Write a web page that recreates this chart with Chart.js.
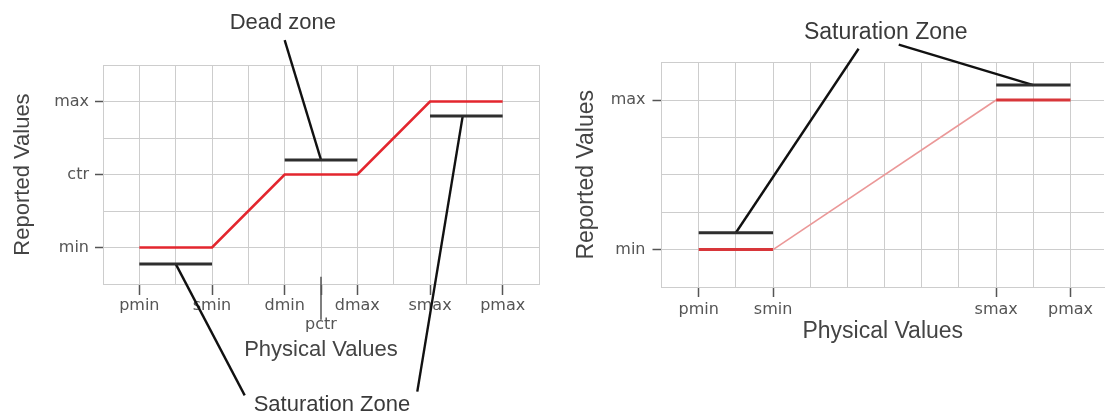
<!DOCTYPE html>
<html><head><meta charset="utf-8">
<script src="https://cdn.jsdelivr.net/npm/chart.js@4"></script>
<style>
html,body{margin:0;padding:0;background:#fff;overflow:hidden;}
#wrap{position:relative;width:1105px;height:418px;}
canvas{position:absolute;top:0;}
#c1{left:0;} #c2{left:552px;}
</style></head><body>
<div id="wrap"><canvas id="c1" width="552" height="418"></canvas><canvas id="c2" width="553" height="418"></canvas></div>
<script>
// ---------- Left chart (dead zone + saturation) ----------
const leftXTickValues = [1, 3, 5, 6, 7, 9, 11];
const leftXTickLabels = ['pmin', 'smin', 'dmin', 'pctr', 'dmax', 'smax', 'pmax'];
const leftXTickRow    = [0, 0, 0, 1, 0, 0, 0];
const leftYTickValues = [1, 3, 5];
const leftYTickLabels = ['min', 'ctr', 'max'];
const leftCurveX = [1, 3, 5, 7, 9, 11];
const leftCurveY = [1, 1, 3, 3, 5, 5];
const leftSatLowX = [1, 3];     const leftSatLowY = [0.55, 0.55];
const leftDeadX = [5, 7];       const leftDeadY = [3.4, 3.4];
const leftSatHighX = [9, 11];   const leftSatHighY = [4.6, 4.6];
const leftDeadLeaderX = [6, 5.0];    const leftDeadLeaderY = [3.4, 6.68];
const leftSatLeaderAX = [2, 3.9];    const leftSatLeaderAY = [0.55, -3.05];
const leftSatLeaderBX = [9.9, 8.65]; const leftSatLeaderBY = [4.6, -2.95];
const leftPctrTickX = [6, 6];        const leftPctrTickY = [0.2, -0.98];
const leftNoteTexts = ['Dead zone', 'Saturation Zone'];
const leftNoteX = [4.95, 6.3];
const leftNoteY = [7.15, -3.3];

// ---------- Right chart (saturation only) ----------
const rightXTickValues = [1, 3, 9, 11];
const rightXTickLabels = ['pmin', 'smin', 'smax', 'pmax'];
const rightYTickValues = [1, 5];
const rightYTickLabels = ['min', 'max'];
const rightCurveX = [1, 3, 9, 11];
const rightCurveY = [1, 1, 5, 5];
const rightSatLowX = [1, 3];    const rightSatLowY = [1.45, 1.45];
const rightSatHighX = [9, 11];  const rightSatHighY = [5.4, 5.4];
const rightLeaderAX = [2, 5.3];    const rightLeaderAY = [1.45, 6.37];
const rightLeaderBX = [10, 6.38];  const rightLeaderBY = [5.4, 6.48];
const rightNoteTexts = ['Saturation Zone'];
const rightNoteX = [6.03];
const rightNoteY = [6.79];

const GRID = '#cdcdcd';
const TICKC = '#555';

function pts(xs, ys) { return xs.map((x, i) => ({x: x, y: ys[i]})); }
function line(xs, ys, color, width, extra) {
  return Object.assign({data: pts(xs, ys), borderColor: color, borderWidth: width,
    showLine: true, pointRadius: 0, pointHoverRadius: 0, fill: false, tension: 0,
    borderCapStyle: 'butt'}, extra || {});
}
function notesPlugin(texts, xs, ys, font, color) {
  return {
    id: 'notes',
    afterDatasetsDraw(chart) {
      const ctx = chart.ctx, sx = chart.scales.x, sy = chart.scales.y;
      ctx.save();
      ctx.font = font; ctx.fillStyle = color;
      ctx.textAlign = 'center'; ctx.textBaseline = 'middle';
      texts.forEach((t, i) => ctx.fillText(t, sx.getPixelForValue(xs[i]), sy.getPixelForValue(ys[i])));
      ctx.restore();
    }
  };
}
function makeScales(cfg) {
  return {
    x: {
      type: 'linear', min: 0, max: cfg.xMax,
      afterFit: s => { s.height = cfg.xHeight; },
      ticks: {
        stepSize: 1, autoSkip: false, maxRotation: 0, minRotation: 0, includeBounds: false,
        padding: cfg.xTickPad, color: TICKC, font: {family: 'DejaVu Sans', size: 16},
        callback: v => {
          const i = cfg.xVals.indexOf(v);
          if (i < 0) return '';
          return (cfg.xRows && cfg.xRows[i]) ? ['', cfg.xLabels[i]] : cfg.xLabels[i];
        }
      },
      grid: {color: GRID, lineWidth: 1, tickLength: cfg.xTickLen, tickWidth: 1.5,
        tickColor: c => (c.tick && cfg.xVals.indexOf(c.tick.value) >= 0) ? TICKC : 'rgba(0,0,0,0)'},
      border: {color: GRID, width: 1},
      title: {display: true, text: 'Physical Values', color: '#444',
        font: {family: 'Liberation Sans', size: cfg.titleSize}, padding: 0}
    },
    y: {
      type: 'linear', min: 0, max: 6,
      afterFit: s => { s.width = cfg.yWidth; },
      ticks: {
        stepSize: 1, autoSkip: false, padding: cfg.yTickPad, color: TICKC,
        font: {family: 'DejaVu Sans', size: 16},
        callback: v => { const i = cfg.yVals.indexOf(v); return i < 0 ? '' : cfg.yLabels[i]; }
      },
      grid: {color: GRID, lineWidth: 1, tickLength: cfg.yTickLen, tickWidth: 1.5,
        tickColor: c => (c.tick && cfg.yVals.indexOf(c.tick.value) >= 0) ? TICKC : 'rgba(0,0,0,0)'},
      border: {color: GRID, width: 1},
      title: {display: true, text: 'Reported Values', color: '#444',
        font: {family: 'Liberation Sans', size: cfg.titleSize}, padding: {top: cfg.yTitlePad, bottom: 0}}
    }
  };
}
const baseOpts = {responsive: false, animation: false, devicePixelRatio: 1,
  events: [], plugins: {legend: {display: false}, tooltip: {enabled: false}}};

new Chart(document.getElementById('c1'), {
  type: 'scatter',
  data: {datasets: [
    line(leftCurveX, leftCurveY, '#e3262e', 2.6),
    line(leftSatLowX, leftSatLowY, '#2e2e2e', 3),
    line(leftDeadX, leftDeadY, '#2e2e2e', 3),
    line(leftSatHighX, leftSatHighY, '#2e2e2e', 3),
    line(leftDeadLeaderX, leftDeadLeaderY, '#111', 2.4, {clip: false}),
    line(leftSatLeaderAX, leftSatLeaderAY, '#111', 2.4, {clip: false}),
    line(leftSatLeaderBX, leftSatLeaderBY, '#111', 2.4, {clip: false}),
    line(leftPctrTickX, leftPctrTickY, TICKC, 1.5, {clip: false})
  ]},
  options: Object.assign({}, baseOpts, {
    layout: {padding: {left: 0, right: 13, top: 65, bottom: 54.8}},
    scales: makeScales({xMax: 12, xHeight: 79.2, xTickPad: 1, xTickLen: 11,
      xVals: leftXTickValues, xLabels: leftXTickLabels, xRows: leftXTickRow,
      yVals: leftYTickValues, yLabels: leftYTickLabels, yWidth: 103, yTickPad: 6, yTickLen: 8,
      yTitlePad: 10, titleSize: 22})
  }),
  plugins: [notesPlugin(leftNoteTexts, leftNoteX, leftNoteY, '22px "Liberation Sans"', '#3a3a3a')]
});

new Chart(document.getElementById('c2'), {
  type: 'scatter',
  data: {datasets: [
    line(rightCurveX, rightCurveY, '#d8363a', 3, {segment: {
      borderColor: c => c.p0.parsed.y === c.p1.parsed.y ? '#d8363a' : '#eb9898',
      borderWidth: c => c.p0.parsed.y === c.p1.parsed.y ? 3 : 1.6 }}),
    line(rightSatLowX, rightSatLowY, '#2e2e2e', 3),
    line(rightSatHighX, rightSatHighY, '#2e2e2e', 3),
    line(rightLeaderAX, rightLeaderAY, '#111', 2.4, {clip: false}),
    line(rightLeaderBX, rightLeaderBY, '#111', 2.4, {clip: false})
  ]},
  options: Object.assign({}, baseOpts, {
    layout: {padding: {left: 0, right: 1, top: 62.6, bottom: 72.2}},
    scales: makeScales({xMax: 11.9, xHeight: 58.8, xTickPad: 3, xTickLen: 10,
      xVals: rightXTickValues, xLabels: rightXTickLabels, xRows: null,
      yVals: rightYTickValues, yLabels: rightYTickLabels, yWidth: 109.5, yTickPad: 7, yTickLen: 9,
      yTitlePad: 21, titleSize: 23})
  }),
  plugins: [notesPlugin(rightNoteTexts, rightNoteX, rightNoteY, '23px "Liberation Sans"', '#3a3a3a')]
});
</script>
</body></html>
